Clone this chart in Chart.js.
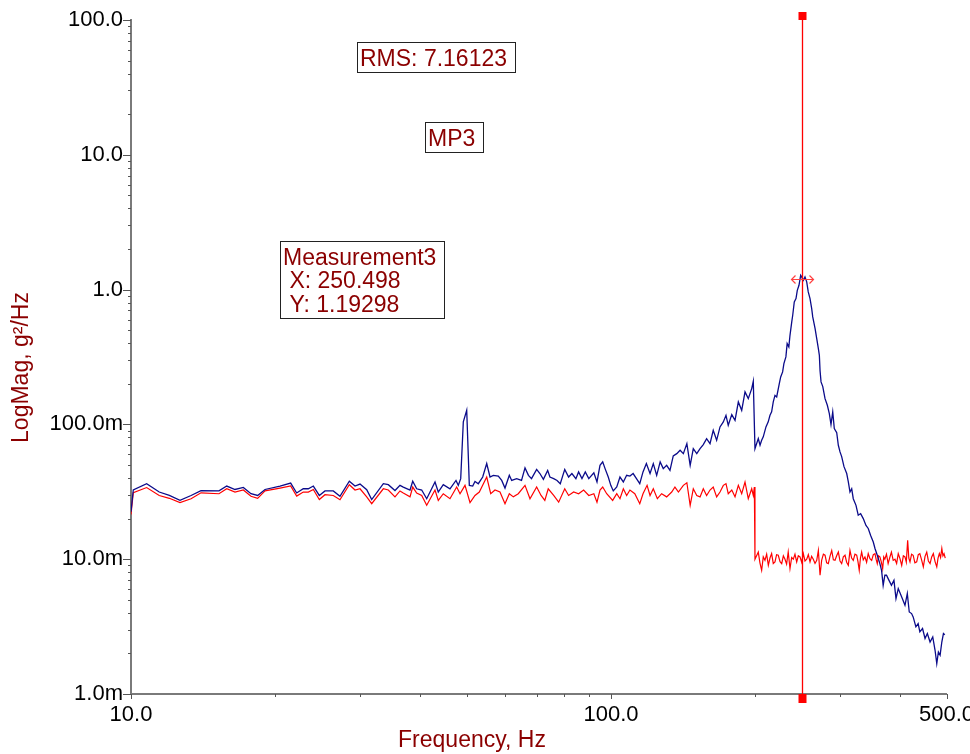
<!DOCTYPE html>
<html><head><meta charset="utf-8">
<script src="https://cdn.jsdelivr.net/npm/chart.js@4/dist/chart.umd.min.js"></script>
<style>html,body{margin:0;padding:0;background:#fff;overflow:hidden}canvas{display:block}</style>
</head><body>
<canvas id="c" width="970" height="754"></canvas>
<script>
const FONT = "'Liberation Sans', Arial, sans-serif";
const TEXT_RED = '#8b0000';
const AXIS_GREY = '#7a7a7a';

// Frequencies in Hz; magnitudes in milli g²/Hz (m, as on the axis labels)
const blueFreq = [10.0, 10.11, 10.78, 11.45, 12.02, 12.65, 13.34, 13.99, 15.25, 15.83, 16.47, 17.14, 17.78, 18.36, 19.02, 20.44, 21.51, 22.14, 22.85, 23.41, 23.98, 24.68, 25.36, 26.39, 27.25, 28.50, 29.29, 30.00, 30.98, 31.73, 33.55, 34.36, 35.48, 36.34, 36.92, 38.13, 38.63, 39.37, 40.33, 41.31, 42.99, 43.67,
 44.73, 46.19, 47.54, 48.07, 48.63, 49.24, 50.05, 50.68, 51.51, 52.08,
 52.91, 54.04, 55.09, 55.97, 56.86, 58.24, 59.2, 60.14, 61.4, 62.1,
 63.6, 65.1, 66.2, 67.3, 68.3, 70.0, 71.1, 72.3, 73.8, 74.6,
 75.96, 77.2, 78.4, 80.1, 81.6, 82.9, 84.5, 85.6, 87.0, 88.4,
 89.9, 92.1, 93.5, 94.86, 96.1, 97.2, 98.7, 99.9, 101.1, 102.8,
 104.4, 106.1, 107.8, 109.5, 111.2, 113.0, 114.8, 116.6, 118.5, 120.6,
 122.5, 124.5, 126.6, 128.5, 130.6, 132.7, 134.8, 137.1, 139.3, 141.5,
 143.9, 146.2, 148.4, 150.9, 153.3, 155.7, 158.2, 160.8, 163.3, 166.0,
 168.7, 171.4, 173.6, 175.5, 178.5, 181.3, 184.2, 187.2, 190.2, 193.2,
 196.4, 197.9, 199.5, 202.7, 204.4, 206.0, 207.6, 210.3, 212.6, 214.4,
 216.1, 217.8, 219.6, 221.4, 224.2, 225.7, 227.8, 229.2, 231.4, 232.8,
 234.7, 236.0, 238.0, 239.1, 240.9, 242.9, 244.4, 246.4, 248.4, 249.6,
 251.6, 253.6, 255.7, 257.6, 259.8, 261.9, 263.2, 266.2, 268.3, 270.4,
 271.7, 272.6, 273.9, 276.2, 279.2, 282.3, 285.0, 287.3, 289.7, 291.9,
 295.3, 297.6, 300, 302.4, 305.8, 309.8, 312.2, 314.7, 317.3, 319.7,
 323.9, 327.4, 331.2, 335.4, 339.8, 343.5, 347.5, 351.9, 354.8, 358.7,
 363.2, 366.2, 369.0, 372.0, 375.0, 377.9, 383.9, 388.6, 392.4, 396.7,
 403.3, 409.7, 414.3, 418.2, 422.9, 426.1, 431.7, 436.4, 440.0, 445.7,
 451.1, 456.1, 462.1, 468.1, 473.3, 477.2, 480.9, 484.9, 488.9, 492.7,
 495.9];
const blueMilli = [22.5, 32.6, 36.3, 31.5, 29.7, 27.3, 29.7, 32.3, 32.1, 34.9, 32.9, 34.1, 30.6, 29.7, 32.9, 34.9, 36.7, 31.0, 33.3, 33.3, 34.9, 29.7, 32.1, 32.1, 29.3, 37.9, 34.9, 36.1, 32.8, 27.7, 36.3, 35.7, 32.3, 35.3, 34.3, 32.6, 37.9, 33.3, 32.6, 28.1, 37.4, 31.5,
 35.7, 33.3, 38.4, 35.3, 39.6, 104.4, 127.2, 35.3, 34.9, 37.8,
 36.3, 40.7, 51.2, 40.7, 41.9, 41.4, 38.4, 33.7, 41.9, 38.4,
 39.6, 38.4, 47.6, 41.9, 39.6, 46.4, 43.2, 39.1, 45.6, 40.7,
 39.6, 38.4, 36.3, 46.4, 40.7, 43.2, 39.6, 44.4, 39.6, 44.4,
 39.6, 43.7, 37.4, 49.7, 52.7, 47.0, 40.7, 35.3, 32.1, 34.3,
 40.7, 37.4, 41.9, 41.4, 43.2, 39.6, 36.3, 44.4, 51.2, 43.2,
 51.2, 41.9, 52.7, 47.0, 49.7, 45.6, 58.4, 60.7, 64.3, 60.7,
 72.0, 49.7, 66.1, 60.7, 66.1, 70.8, 78.4, 72.0, 90.4, 76.2,
 95.8, 104.4, 116.8, 98.5, 118.2, 107.2, 146.9, 127.2, 174.2, 155.3,
 184.3, 208.8, 66.1, 78.4, 70.0, 76.2, 80.8, 95.8, 104.4, 116.8,
 123.8, 146.9, 164.3, 160.0, 200.8, 225.1, 245.2, 282.5, 316.7, 397.5,
 375.7, 458.1, 576.0, 644.8, 810.6, 857.5, 988, 1076, 1277, 1242,
 1172, 1242, 1141, 961, 857, 722.6, 627.4, 513.6, 433.0, 365.0,
 325.5, 250.6, 206.6, 190.7, 155.3, 138.6, 120.3, 99.7, 123.8, 93.1,
 86.9, 70.0, 62.5, 57.7, 48.6, 43.2, 37.4, 31.5, 33.3, 28.1,
 25.1, 21.2, 21.8, 20.0, 17.8, 16.9, 15.0, 13.4, 12.0, 10.7,
 9.28, 8.27, 6.40, 7.60, 7.60, 7.18, 6.40, 6.97, 5.10, 6.05,
 5.25, 4.55, 5.56, 4.06, 3.95, 3.73, 3.15, 3.33, 2.89, 3.06,
 2.58, 2.81, 2.43, 2.65, 2.11, 1.68, 2.05, 1.94, 2.43, 2.81,
 2.75];

const redFreq = [10.0, 10.11, 10.78, 11.45, 12.02, 12.65, 13.34, 13.99, 15.25, 15.83, 16.47, 17.14, 17.78, 18.36, 19.02, 20.44, 21.51, 22.14, 22.85, 23.41, 23.98, 24.68, 25.36, 26.39, 27.25, 28.50, 29.29, 30.00, 30.98, 31.73, 33.55, 34.36, 35.48, 36.34, 36.92, 38.13, 38.63, 39.37, 40.33, 41.31, 42.99, 43.67,
 44.73, 46.19, 47.70, 48.47, 49.64, 50.85, 52.08, 53.17, 55.09, 56.16,
 57.32, 58.71, 60.14, 61.4, 62.6, 64.1, 66.2, 67.8, 70.0, 71.5,
 72.8, 74.0, 75.96, 77.8, 80.1, 81.6, 83.6, 85.6, 87.7, 89.9,
 92.1, 93.5, 94.86, 96.1, 97.96, 100.8, 102.8, 104.4, 106.1, 107.8,
 109.5, 112.1, 114.8, 116.6, 118.9, 120.6, 122.5, 124.9, 127.5, 130.6,
 133.8, 135.9, 138.2, 141.5, 143.9, 146.2, 148.4, 150.9, 153.3, 155.7,
 158.2, 160.8, 163.3, 166.0, 168.7, 171.4, 173.6, 175.5, 178.5, 181.3,
 184.2, 187.2, 190.2, 193.2, 196.4, 197.9, 198.9, 199.5,
 202.7, 204.3, 206.0, 207.6, 209.3, 211.0, 212.7, 214.4, 216.1, 217.8,
 219.6, 221.3, 223.1, 225.0, 226.8, 228.6, 230.4, 232.2, 234.0, 236.0,
 237.9, 239.8, 241.7, 243.7, 245.6, 247.6, 249.6, 251.6, 253.6, 255.7,
 257.7, 259.8, 261.8, 263.9, 266.1, 268.3, 270.4, 272.6, 274.7, 277.0,
 279.2, 281.4, 283.6, 285.9, 288.3, 290.6, 292.9, 295.2, 297.6, 300.0,
 302.4, 304.8, 307.3, 309.7, 312.2, 314.7, 317.2, 319.7, 322.3, 325.0,
 327.0, 329.0, 330.9, 332.8, 335.4, 338.1, 340.8, 343.5, 346.3, 349.2,
 352.0, 354.8, 356.7, 358.7, 360.9, 363.2, 365.6, 368.1, 370.0, 372.0,
 374.9, 377.9, 380.9, 383.9, 387.2, 390.5, 393.6, 396.7, 400.0, 403.3,
 406.5, 409.7, 412.3, 415.0, 417.3, 419.7, 422.9, 426.1, 429.7, 433.4,
 436.7, 440.0, 443.7, 447.4, 451.1, 454.8, 458.4, 462.1, 465.7, 469.4,
 473.3, 477.2, 480.1, 483.1, 486.0, 488.9, 491.5, 494.1, 497.0];
const redMilli = [21.5, 31.1, 34.0, 29.7, 28.3, 26.3, 28.1, 31.1, 30.6, 33.3, 31.5, 32.6, 29.3, 28.3, 32.1, 33.7, 34.9, 29.4, 31.5, 31.5, 32.9, 27.7, 30.1, 29.7, 27.6, 35.7, 32.6, 33.3, 29.0, 25.8, 33.3, 32.6, 29.0, 32.1, 31.0, 29.0, 34.3, 31.0, 29.7, 25.1, 32.6, 27.3,
 30.6, 28.1, 34.3, 30.6, 35.3, 26.3, 29.7, 31.5, 40.7, 30.6,
 32.6, 31.5, 25.8, 30.6, 29.0, 30.6, 35.3, 28.1, 34.3, 29.7,
 27.3, 33.3, 29.7, 26.5, 33.3, 29.7, 31.5, 30.6, 32.6, 29.7,
 30.6, 26.5, 32.6, 34.3, 30.6, 27.3, 30.6, 28.1, 33.3, 29.7,
 32.6, 30.6, 25.8, 30.6, 35.3, 29.7, 33.3, 28.1, 30.6, 29.0,
 31.5, 34.3, 31.5, 35.3, 36.9, 25.1, 33.3, 29.7, 29.0, 33.3,
 29.7, 32.6, 34.3, 29.0, 31.5, 35.3, 36.3, 30.6, 32.6, 29.0,
 35.3, 30.6, 37.4, 28.1, 33.3, 29.7, 34.3, 10.0,
 11.3, 9.4, 8.27, 10.4, 9.81, 10.9, 9.01, 10.2, 11.0, 9.3,
 9.55, 10.8, 10.7, 9.6, 9.28, 10.6, 10.0, 9.2, 11.3, 8.52,
 10.3, 10.0, 10.9, 9.55, 10.6, 10.4, 9.5, 11.0, 9.7, 10.0,
 10.8, 9.55, 10.5, 10.0, 9.3, 9.81, 11.6, 7.60, 9.81, 10.9,
 10.7, 9.4, 9.28, 10.5, 11.6, 9.9, 9.81, 10.6, 11.3, 9.7,
 9.28, 10.4, 10.7, 9.5, 9.01, 11.6, 10.2, 9.81, 10.9, 10.7,
 9.6, 8.27, 10.2, 11.3, 9.9, 10.4, 9.5, 11.0, 10.1, 9.81,
 10.8, 11.0, 10.0, 9.28, 10.6, 10.4, 9.6, 8.52, 10.4, 10.0,
 10.9, 9.28, 10.3, 11.3, 9.8, 10.0, 9.3, 11.0, 10.1, 9.01,
 10.6, 10.4, 9.5, 13.8, 10.2, 9.55, 10.9, 10.7, 9.4, 9.55,
 10.8, 11.0, 9.9, 8.78, 10.5, 11.3, 9.7, 9.28, 10.4, 11.0,
 9.6, 8.78, 10.2, 11.0, 10.3, 12.0, 10.6, 11.0, 10.2];

const xMajorTicks = [10, 100, 500];
const xMajorLabels = ['10.0', '100.0', '500.0'];
const xMinorTicks = [20, 30, 40, 50, 60, 70, 80, 90, 200, 300, 400];
const yMajorTicks = [0.001, 0.01, 0.1, 1, 10, 100];
const yMajorLabels = ['1.0m', '10.0m', '100.0m', '1.0', '10.0', '100.0'];
const yMinorSteps = [2, 3, 4, 5, 6, 7, 8, 9];

const xTitle = 'Frequency, Hz';
const yTitle = 'LogMag, g²/Hz';
const cursorFreq = 250.498;
const cursorMag = 1.19298;
// text boxes, anchored (top-left corner) in data space
const notes = [
  { lines: ['RMS: 7.16123'], f: 29.6, v: 68.5 },
  { lines: ['MP3'], f: 41.0, v: 17.4 },
  { lines: ['Measurement3', ' X: 250.498', ' Y: 1.19298'], f: 20.44, v: 2.29 }
];

const toPts = (fs, ms) => fs.map((f, i) => ({ x: f, y: ms[i] / 1000 }));

const overlay = {
  id: 'overlay',
  afterDatasetsDraw(chart) {
    const { ctx, chartArea: a } = chart;
    const xs = chart.scales.x, ys = chart.scales.y;
    const px = Math.round(xs.getPixelForValue(cursorFreq)) + 0.5;
    ctx.save();
    ctx.strokeStyle = '#ff0000';
    ctx.lineWidth = 1.3;
    ctx.beginPath();
    ctx.moveTo(px, a.top - 4);
    ctx.lineTo(px, a.bottom + 4);
    ctx.stroke();
    ctx.fillStyle = '#ff0000';
    ctx.fillRect(px - 4, a.top - 8, 8, 8);
    ctx.fillRect(px - 4, a.bottom, 8, 9);
    const py = Math.round(ys.getPixelForValue(cursorMag)) + 0.5;
    ctx.strokeStyle = '#ff4040';
    ctx.lineWidth = 1.2;
    ctx.beginPath();
    ctx.moveTo(px - 11, py); ctx.lineTo(px + 11, py);
    ctx.moveTo(px - 7, py - 4); ctx.lineTo(px - 11, py); ctx.lineTo(px - 7, py + 4);
    ctx.moveTo(px + 7, py - 4); ctx.lineTo(px + 11, py); ctx.lineTo(px + 7, py + 4);
    ctx.stroke();
    ctx.restore();
  },
  afterDraw(chart) {
    const { ctx, chartArea: a } = chart;
    const xs = chart.scales.x, ys = chart.scales.y;
    ctx.save();
    ctx.strokeStyle = '#555';
    ctx.lineWidth = 1;
    ctx.beginPath();
    xMajorTicks.forEach(v => { const p = Math.round(xs.getPixelForValue(v)) + 0.5; ctx.moveTo(p, a.bottom); ctx.lineTo(p, a.bottom + 5); });
    xMinorTicks.forEach(v => { const p = Math.round(xs.getPixelForValue(v)) + 0.5; ctx.moveTo(p, a.bottom); ctx.lineTo(p, a.bottom + 3); });
    yMajorTicks.forEach(v => { const p = Math.round(ys.getPixelForValue(v)) + 0.5; ctx.moveTo(a.left - 8, p); ctx.lineTo(a.left, p); });
    yMajorTicks.slice(0, -1).forEach(d => yMinorSteps.forEach(m => {
      const p = Math.round(ys.getPixelForValue(d * m)) + 0.5; ctx.moveTo(a.left - 3, p); ctx.lineTo(a.left, p);
    }));
    ctx.stroke();
    ctx.fillStyle = TEXT_RED;
    ctx.font = '23px ' + FONT;
    ctx.textAlign = 'center';
    ctx.textBaseline = 'alphabetic';
    ctx.fillText(xTitle, 472, 746.5);
    ctx.save();
    ctx.translate(28, 367.5);
    ctx.rotate(-Math.PI / 2);
    ctx.fillText(yTitle, 0, 0);
    ctx.restore();
    ctx.textAlign = 'left';
    notes.forEach(n => {
      const left = Math.round(xs.getPixelForValue(n.f));
      const top = Math.round(ys.getPixelForValue(n.v));
      const w = Math.round(Math.max(...n.lines.map(s => ctx.measureText(s).width)) + 11);
      const h = Math.round(24 + (n.lines.length - 1) * 23.3 + 6);
      ctx.fillStyle = '#fff';
      ctx.fillRect(left, top, w, h);
      ctx.strokeStyle = '#222';
      ctx.lineWidth = 1;
      ctx.strokeRect(left + 0.5, top + 0.5, w, h);
      ctx.fillStyle = TEXT_RED;
      n.lines.forEach((s, i) => ctx.fillText(s, left + 3, top + 24 + i * 23.3));
    });
    ctx.restore();
  }
};

new Chart(document.getElementById('c'), {
  type: 'line',
  data: {
    datasets: [
      { data: toPts(blueFreq, blueMilli), borderColor: '#0b0b8a', borderWidth: 1.3, pointRadius: 0, tension: 0, fill: false },
      { data: toPts(redFreq, redMilli), borderColor: '#ff0000', borderWidth: 1.2, pointRadius: 0, tension: 0, fill: false }
    ]
  },
  options: {
    responsive: false,
    devicePixelRatio: 1,
    animation: false,
    events: [],
    layout: { padding: { top: 20, right: 23.5, left: 0, bottom: 0 } },
    plugins: { legend: { display: false }, tooltip: { enabled: false }, title: { display: false } },
    scales: {
      x: {
        type: 'logarithmic', min: 10, max: 500,
        afterBuildTicks: s => { s.ticks = xMajorTicks.map(v => ({ value: v })); },
        afterFit: s => { s.height = 60; s.paddingLeft = 0; s.paddingRight = 0; },
        ticks: { autoSkip: false, maxRotation: 0, padding: 8, color: '#000', font: { family: FONT, size: 22 },
                 callback: (v, i) => xMajorLabels[i] },
        grid: { display: true, drawOnChartArea: false, drawTicks: false },
        border: { display: true, color: AXIS_GREY, width: 2 }
      },
      y: {
        type: 'logarithmic', min: 0.001, max: 100,
        afterBuildTicks: s => { s.ticks = yMajorTicks.map(v => ({ value: v })); },
        afterFit: s => { s.width = 131; s.paddingTop = 0; s.paddingBottom = 0; },
        ticks: { autoSkip: false, padding: 8, color: '#000', font: { family: FONT, size: 22 },
                 callback: (v, i) => yMajorLabels[i] },
        grid: { display: true, drawOnChartArea: false, drawTicks: false },
        border: { display: true, color: AXIS_GREY, width: 2 }
      }
    }
  },
  plugins: [overlay]
});
</script>
</body></html>
